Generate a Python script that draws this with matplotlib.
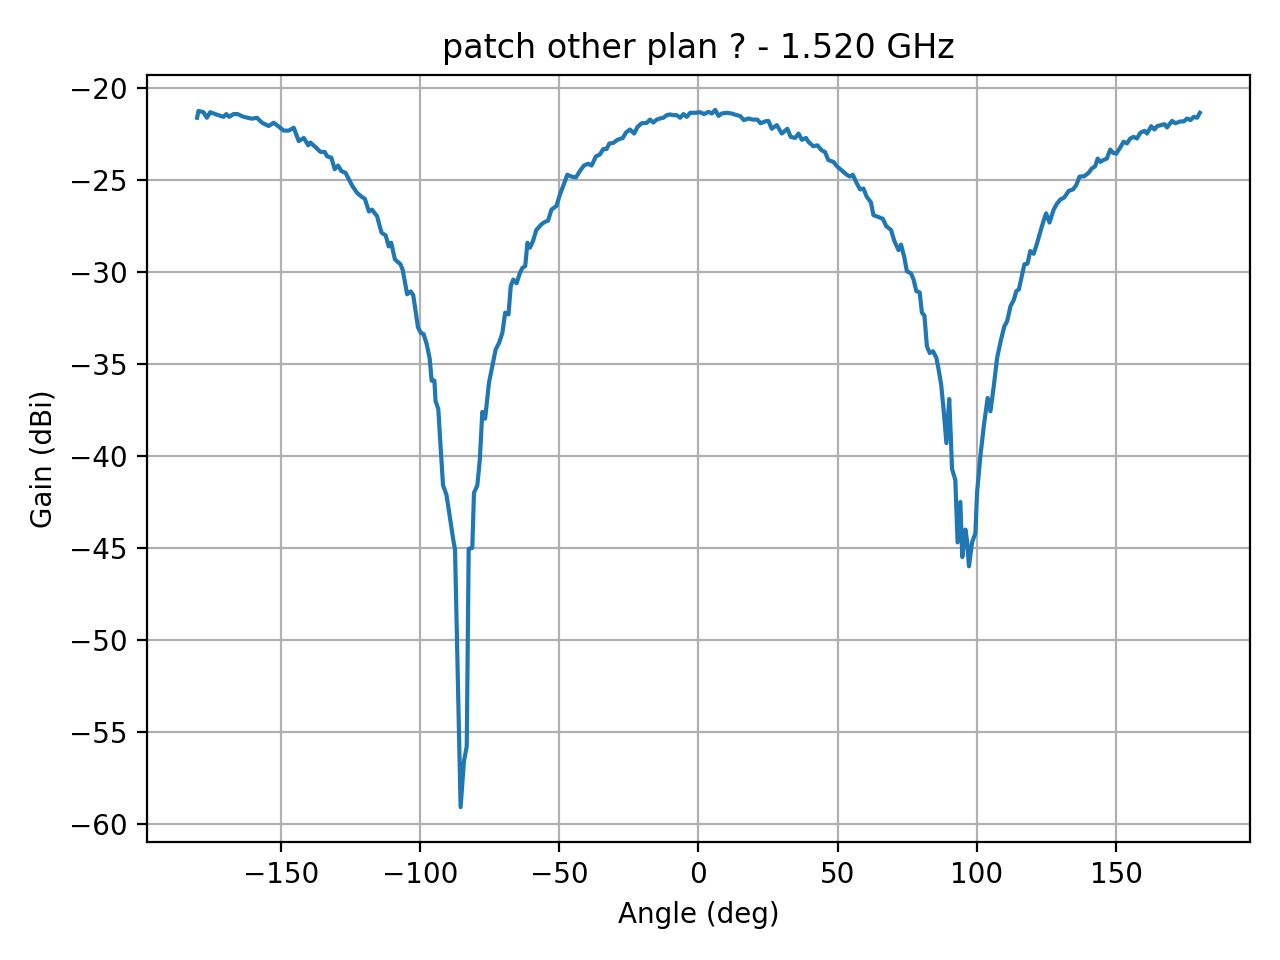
import matplotlib
matplotlib.use("Agg")
import matplotlib.pyplot as plt

angle_deg = [
    -180.0, -179.5, -177.7, -176.5, -175.3, -173.5, -170.5, -169.5, -168.5, -166.9,
    -165.5, -163.3, -160.3, -158.5, -156.7, -154.3, -152.5, -150.7, -148.9, -147.1,
    -145.3, -143.5, -141.7, -140.1, -139.3, -137.5, -135.7, -134.2, -133.3, -131.8,
    -130.6, -129.4, -128.2, -126.7, -124.3, -122.5, -120.9, -119.8, -118.3, -117.2,
    -115.4, -113.8, -112.3, -111.2, -110.3, -109.0, -107.0, -106.2, -104.6, -103.3,
    -102.4, -100.7, -99.7, -98.7, -97.6, -96.5, -95.8, -94.8, -94.4, -93.4,
    -92.6, -91.7, -90.5, -89.3, -88.1, -87.4, -85.4, -84.2, -83.2, -82.5,
    -81.2, -80.6, -79.4, -78.5, -77.6, -76.6, -75.2, -74.0, -72.8, -71.6,
    -70.4, -69.4, -68.2, -67.4, -66.5, -65.3, -64.1, -63.2, -62.2, -61.4,
    -60.5, -59.4, -58.2, -56.4, -55.2, -54.0, -52.8, -51.0, -49.8, -48.3,
    -47.1, -45.6, -44.0, -42.6, -41.1, -39.6, -38.4, -36.8, -35.4, -34.2,
    -33.0, -32.0, -30.6, -29.1, -27.2, -26.0, -24.6, -23.1, -21.9, -20.4,
    -18.6, -17.4, -16.2, -15.0, -13.8, -12.6, -11.4, -10.2, -9.0, -7.8,
    -6.6, -5.4, -4.2, -3.0, -1.2, 0.6, 2.0, 3.6, 4.8, 6.0,
    7.2, 8.3, 10.1, 11.9, 13.7, 14.9, 16.3, 17.9, 19.4, 21.1,
    22.3, 23.9, 25.1, 26.3, 28.1, 29.9, 31.9, 33.1, 34.7, 35.9,
    37.1, 38.6, 39.4, 41.2, 42.7, 44.2, 45.4, 46.6, 48.4, 49.9,
    51.4, 53.2, 54.4, 55.4, 56.6, 58.0, 59.2, 60.4, 61.9, 62.8,
    64.6, 66.2, 67.4, 69.1, 70.3, 71.8, 72.7, 73.9, 74.8, 76.3,
    77.2, 78.2, 79.4, 80.2, 81.1, 82.0, 83.0, 84.2, 85.4, 86.2,
    87.1, 88.0, 89.0, 90.0, 90.6, 91.0, 92.2, 93.0, 94.0, 94.7,
    95.8, 96.4, 97.1, 98.2, 99.4, 100.0, 101.2, 102.4, 103.8, 104.8,
    106.0, 107.2, 108.6, 109.8, 110.8, 112.0, 113.2, 114.1, 115.0, 116.2,
    117.0, 118.1, 119.1, 120.3, 121.5, 122.9, 124.1, 124.8, 126.0, 127.5,
    128.7, 129.9, 131.3, 132.9, 134.4, 135.6, 136.8, 138.5, 140.0, 141.2,
    142.4, 143.3, 144.2, 145.4, 146.6, 147.8, 148.8, 150.0, 151.4, 152.6,
    153.8, 155.0, 156.2, 157.4, 158.6, 160.1, 161.0, 162.5, 163.7, 164.6,
    166.1, 167.3, 168.2, 170.0, 171.2, 173.0, 174.2, 175.4, 176.6, 177.8,
    179.0, 180.0,
]

gain_dbi = [
    -21.60, -21.23, -21.30, -21.60, -21.30, -21.40, -21.55, -21.40, -21.55, -21.40,
    -21.40, -21.55, -21.65, -21.60, -21.87, -22.05, -21.87, -22.08, -22.30, -22.30,
    -22.14, -22.87, -22.70, -23.10, -22.95, -23.20, -23.46, -23.46, -23.70, -23.77,
    -24.40, -24.20, -24.50, -24.60, -25.30, -25.70, -25.90, -26.00, -26.70, -26.60,
    -26.95, -27.85, -28.00, -28.60, -28.40, -29.30, -29.57, -29.86, -31.20, -31.05,
    -31.25, -33.00, -33.30, -33.36, -33.90, -34.70, -35.90, -35.90, -37.00, -37.46,
    -39.46, -41.60, -42.10, -43.27, -44.50, -45.10, -59.10, -56.60, -55.80, -45.05,
    -45.00, -42.00, -41.60, -40.20, -37.60, -37.97, -36.00, -35.10, -34.20, -33.85,
    -33.30, -32.20, -32.30, -30.76, -30.40, -30.60, -30.04, -29.76, -29.67, -28.40,
    -28.67, -28.30, -27.70, -27.40, -27.27, -27.20, -26.60, -26.40, -25.80, -25.20,
    -24.70, -24.80, -24.85, -24.50, -24.20, -24.10, -24.20, -23.70, -23.60, -23.30,
    -23.30, -23.00, -22.97, -22.80, -22.70, -22.40, -22.24, -22.46, -22.10, -21.90,
    -21.88, -21.70, -21.86, -21.70, -21.64, -21.60, -21.46, -21.42, -21.46, -21.46,
    -21.60, -21.40, -21.55, -21.33, -21.33, -21.30, -21.40, -21.28, -21.37, -21.17,
    -21.50, -21.37, -21.33, -21.37, -21.46, -21.50, -21.73, -21.64, -21.70, -21.70,
    -21.90, -21.80, -21.77, -22.20, -22.00, -22.46, -22.20, -22.64, -22.70, -22.46,
    -22.80, -22.70, -22.90, -23.15, -23.10, -23.37, -23.46, -23.90, -24.00, -24.27,
    -24.46, -24.70, -24.80, -24.70, -25.10, -25.50, -25.45, -25.90, -26.20, -26.90,
    -27.00, -27.10, -27.50, -27.70, -28.30, -28.80, -28.50, -29.20, -29.95, -30.07,
    -30.40, -31.03, -31.10, -32.20, -32.36, -34.03, -34.40, -34.30, -34.66, -35.30,
    -36.10, -37.50, -39.30, -36.90, -39.00, -40.70, -41.30, -44.70, -42.50, -45.50,
    -44.00, -44.60, -46.00, -44.70, -44.20, -42.00, -40.00, -38.40, -36.84, -37.57,
    -36.20, -34.66, -33.67, -32.94, -32.67, -31.85, -31.50, -31.03, -30.94, -30.13,
    -29.57, -29.54, -28.85, -29.00, -28.45, -27.70, -27.10, -26.80, -27.30, -26.60,
    -26.27, -26.05, -25.94, -25.58, -25.50, -25.27, -24.80, -24.78, -24.60, -24.36,
    -24.24, -23.82, -24.00, -23.90, -23.82, -23.33, -23.51, -23.55, -23.22, -22.90,
    -23.00, -22.73, -22.64, -22.73, -22.42, -22.31, -22.46, -22.06, -22.24, -22.06,
    -22.00, -21.95, -22.13, -21.77, -21.90, -21.80, -21.80, -21.64, -21.73, -21.55,
    -21.60, -21.33,
]

title_text = "patch other plan ? - 1.520 GHz"
x_label = "Angle (deg)"
y_label = "Gain (dBi)"

fig, ax = plt.subplots(figsize=(6.4, 4.8), dpi=200)
ax.plot(angle_deg, gain_dbi, color="#1f77b4", linewidth=1.5)
ax.grid(True)
ax.set_title(title_text)
ax.set_xlabel(x_label)
ax.set_ylabel(y_label)
fig.tight_layout()
fig.subplots_adjust(left=0.1148, right=0.9766, top=0.9219, bottom=0.1229)
fig.savefig("out.png", dpi=200)
